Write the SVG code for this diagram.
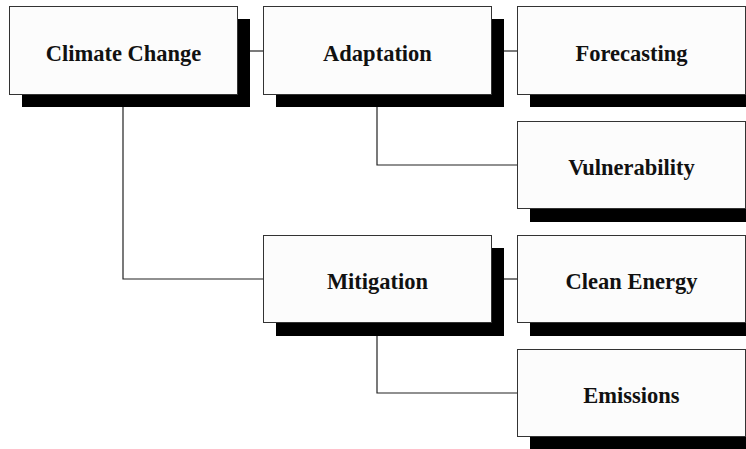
<svg xmlns="http://www.w3.org/2000/svg" width="746" height="449" viewBox="0 0 746 449">
<style>
.shadow{fill:#000}
.box{fill:#fcfcfc;stroke:#333;stroke-width:1}
.lbl{font-family:"Liberation Serif","Times New Roman",serif;font-weight:bold;font-size:22.5px;fill:#111;text-anchor:middle}
.conn{fill:none;stroke:#222;stroke-width:1.2}
</style>
<rect width="746" height="449" fill="#fff"/>
<g id="connectors">
<path class="conn" d="M237,51 H263"/>
<path class="conn" d="M491,51 H517"/>
<path class="conn" d="M377,94 V165 H517"/>
<path class="conn" d="M123,94 V279 H263"/>
<path class="conn" d="M491,279 H517"/>
<path class="conn" d="M377,323 V393 H517"/>
</g>
<g id="climate-change">
<rect class="shadow" x="22" y="19" width="228" height="88"/>
<rect class="box" x="9.5" y="6.5" width="228" height="88"/>
<text class="lbl" x="123.5" y="61">Climate Change</text>
</g>
<g id="adaptation">
<rect class="shadow" x="276" y="19" width="228" height="88"/>
<rect class="box" x="263.5" y="6.5" width="228" height="88"/>
<text class="lbl" x="377.5" y="61">Adaptation</text>
</g>
<g id="forecasting">
<rect class="shadow" x="530" y="19" width="228" height="88"/>
<rect class="box" x="517.5" y="6.5" width="228" height="88"/>
<text class="lbl" x="631.5" y="61">Forecasting</text>
</g>
<g id="vulnerability">
<rect class="shadow" x="530" y="134" width="228" height="88"/>
<rect class="box" x="517.5" y="121.5" width="228" height="87"/>
<text class="lbl" x="631.5" y="175">Vulnerability</text>
</g>
<g id="mitigation">
<rect class="shadow" x="276" y="248" width="228" height="88"/>
<rect class="box" x="263.5" y="235.5" width="228" height="87"/>
<text class="lbl" x="377.5" y="289">Mitigation</text>
</g>
<g id="clean-energy">
<rect class="shadow" x="530" y="248" width="228" height="88"/>
<rect class="box" x="517.5" y="235.5" width="228" height="87"/>
<text class="lbl" x="631.5" y="289">Clean Energy</text>
</g>
<g id="emissions">
<rect class="shadow" x="530" y="362" width="228" height="88"/>
<rect class="box" x="517.5" y="349.5" width="228" height="87"/>
<text class="lbl" x="631.5" y="403">Emissions</text>
</g>
</svg>
